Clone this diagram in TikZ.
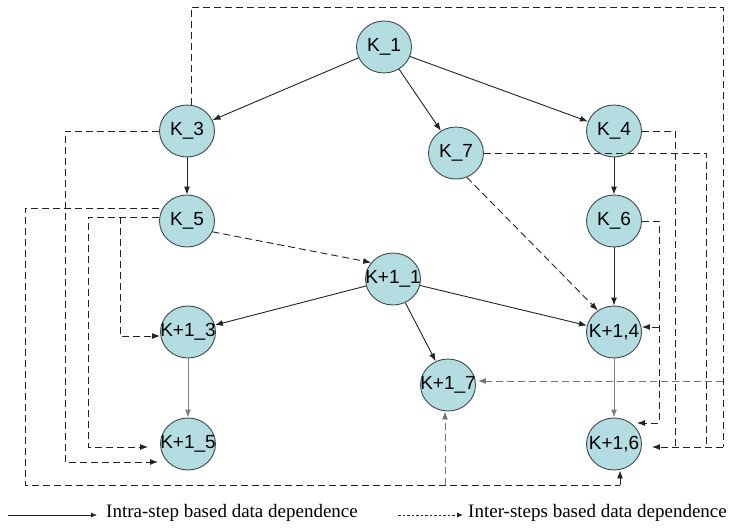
\documentclass[tikz,border=0pt]{standalone}
\usepackage{fontspec}
\setmainfont{Liberation Serif}
\newfontfamily\nodefont{Liberation Sans}
\usetikzlibrary{shapes.geometric,arrows.meta}
\definecolor{nodefill}{HTML}{B3DDE1}
\definecolor{nodeedge}{HTML}{3E4A4C}
\definecolor{linecol}{HTML}{222222}
\newcommand{\klab}[1]{\makebox[0pt]{#1}}
\tikzset{
  knode/.style={ellipse,draw=nodeedge,fill=nodefill,line width=0.9pt,minimum width=55pt,minimum height=52pt,inner sep=0pt,font=\nodefont\fontsize{19}{21}\selectfont},
  intra/.style={draw=linecol,line width=0.9pt,-{Latex[length=8pt,width=6pt]}},
  intragray/.style={intra,draw=black!50},
  inter/.style={draw=linecol,line width=0.9pt,dash pattern=on 7pt off 4pt,-{Latex[length=8pt,width=6pt]}},
  interline/.style={draw=linecol,line width=0.9pt,dash pattern=on 7pt off 4pt},
  intergray/.style={inter,draw=black!55},
}
\begin{document}
\begin{tikzpicture}[x=1pt,y=-1pt]
\useasboundingbox (0,0) rectangle (735,527);
% nodes
\node[knode] (k1) at (384,47) {\klab{K\_1}};
\node[knode] (k3) at (187,131) {\klab{K\_3}};
\node[knode] (k4) at (614,131) {\klab{K\_4}};
\node[knode] (k7) at (456,153) {\klab{K\_7}};
\node[knode] (k5) at (187,221) {\klab{K\_5}};
\node[knode] (k6) at (614,221) {\klab{K\_6}};
\node[knode] (kk1) at (393,279) {\klab{K+1\_1}};
\node[knode] (kk3) at (188,332) {\klab{K+1\_3}};
\node[knode] (kk4) at (614,332) {\klab{K+1,4}};
\node[knode] (kk7) at (448,385) {\klab{K+1\_7}};
\node[knode] (kk5) at (188,444) {\klab{K+1\_5}};
\node[knode] (kk6) at (614,444) {\klab{K+1,6}};
% junction coordinates
\coordinate (tr) at (723,7);
\coordinate (j16) at (723,447);
\coordinate (j17) at (723,381);
\coordinate (jk7) at (706,447);
\coordinate (jk4) at (675,447);
\coordinate (jk6) at (659,423);
\coordinate (jk6b) at (659,327);
\coordinate (jb) at (620,485);
\coordinate (jb7) at (445,485);
\coordinate (jl1) at (25,485);
\coordinate (jl3) at (65,462);
\coordinate (jl5) at (88,447);
\coordinate (jl5t) at (120,217);
\coordinate (jl5b) at (120,336);
% intra-step
\draw[intra] (k1) -- (k3);
\draw[intra] (k1) -- (k7);
\draw[intra] (k1) -- (k4);
\draw[intra] (k3) -- (k5);
\draw[intra] (k4) -- (k6);
\draw[intra] (k6) -- (kk4);
\draw[intra] (kk1) -- (kk3);
\draw[intra] (kk1) -- (kk7);
\draw[intra] (kk1) -- (kk4);
\draw[intragray] (kk3) -- (kk5);
\draw[intragray] (kk4) -- (kk6);
% inter-steps
\draw[inter] (k5.-23) -- (kk1.143);
\draw[inter] (k7.-66) -- (kk4.127);
\draw[interline] ([xshift=4pt]k3.north) |- (tr) -- (j16);
\draw[inter] (j16) -- ([xshift=10pt,yshift=-3pt]kk6.east);
\draw[intergray] (j17) -- ([xshift=2pt,yshift=4pt]kk7.east);
\draw[interline] (k7.east) -| (jk7);
\draw[interline] (k4.east) -| (jk4);
\draw[inter] (k6.east) -| (jk6) -- ([xshift=23pt,yshift=21pt]kk6.center);
\draw[inter] (jk6b) -- ([yshift=5pt]kk4.east);
\draw[inter] (k3.west) -| (jl3) -- ([xshift=-30pt,yshift=-18pt]kk5.center);
\draw[interline] ([yshift=13pt]k5.west) -| (jl1) -- (jb);
\draw[inter] (jb) -- ([xshift=6pt]kk6.south);
\draw[intergray] (jb7) -- ([xshift=-3pt]kk7.south);
\draw[inter] ([yshift=4pt]k5.west) -| (jl5) -- ([xshift=-12pt,yshift=-3pt]kk5.west);
\draw[inter] (jl5t) -- (jl5b) -- ([yshift=-4pt]kk3.west);
% legend
\coordinate (la) at (8,515);
\coordinate (lb) at (97,515);
\coordinate (lc) at (398,515);
\coordinate (ld) at (463,515);
\draw[draw=linecol,line width=0.8pt,-{Latex[length=6pt,width=5pt]}] (la) -- (lb);
\draw[draw=linecol,line width=0.8pt,dash pattern=on 2.5pt off 2pt,-{Latex[length=6pt,width=5pt]}] (lc) -- (ld);
\node[anchor=west,inner sep=0pt,font=\fontsize{19}{21}\selectfont] (lt1) at (106,513) {Intra-step based data dependence};
\node[anchor=west,inner sep=0pt,font=\fontsize{19}{21}\selectfont] (lt2) at (468,513) {Inter-steps based data dependence};
\end{tikzpicture}
\end{document}
